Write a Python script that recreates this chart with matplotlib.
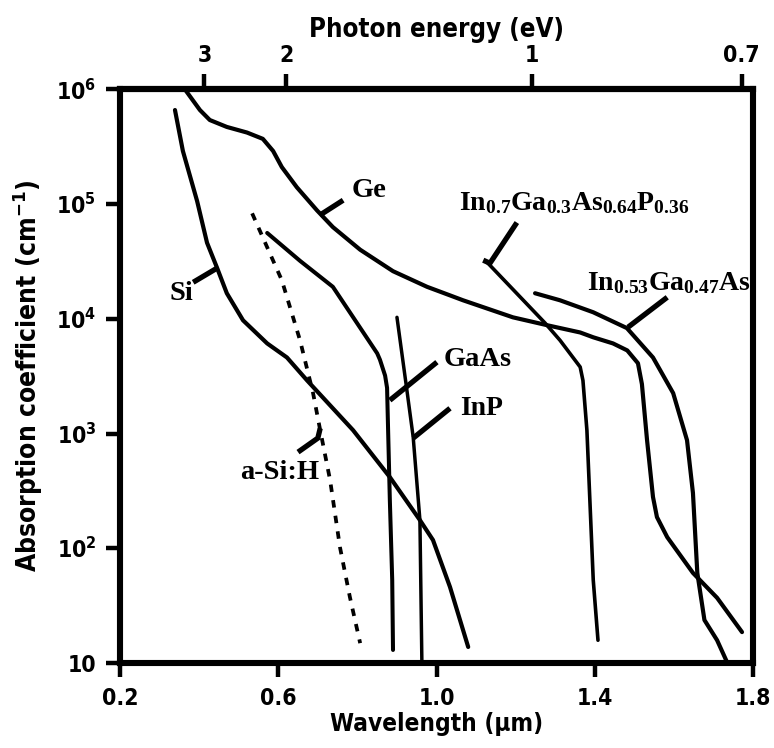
"""Absorption coefficient vs wavelength for common photodetector materials."""

import numpy as np
import matplotlib
matplotlib.use("Agg")
import matplotlib.pyplot as plt
from matplotlib import font_manager

SERIF = ["Liberation Serif", "DejaVu Serif"]
INK = "black"

# wavelength (um) and absorption coefficient (cm^-1)
ge_wl = [0.364, 0.402, 0.427, 0.470, 0.521, 0.561, 0.587, 0.609, 0.647, 0.698, 0.738,
         0.807, 0.890, 0.976, 1.034, 1.067, 1.193, 1.279, 1.363, 1.396, 1.446, 1.482,
         1.509, 1.519, 1.532, 1.547, 1.557, 1.583, 1.648, 1.709, 1.772]
ge_alpha = [1.0e6, 6.6e5, 5.4e5, 4.7e5, 4.2e5, 3.7e5, 2.9e5, 2.1e5, 1.4e5, 8.8e4, 6.3e4,
            4.0e4, 2.6e4, 1.9e4, 1.6e4, 1.45e4, 1.03e4, 8.8e3, 7.6e3, 6.9e3, 6.1e3, 5.3e3,
            4.1e3, 2.7e3, 875, 280, 187, 125, 61, 37, 18.6]

si_wl = [0.339, 0.359, 0.395, 0.420, 0.445, 0.470, 0.511, 0.572, 0.622, 0.673, 0.789,
         0.882, 0.958, 0.991, 1.034, 1.080]
si_alpha = [6.6e5, 2.9e5, 1.06e5, 4.6e4, 2.8e4, 1.67e4, 9.7e3, 6.1e3, 4.6e3, 2.9e3, 1.07e3,
            417, 176, 118, 46, 13.8]

asih_wl = [0.534, 0.572, 0.609, 0.655, 0.688, 0.706, 0.731, 0.756, 0.781, 0.807]
asih_alpha = [8.3e4, 4.2e4, 2.17e4, 6.5e3, 2.25e3, 1.07e3, 393, 102, 37.6, 14.9]

gaas_wl = [0.572, 0.655, 0.738, 0.850, 0.857, 0.870, 0.875, 0.877, 0.882, 0.888, 0.890]
gaas_alpha = [5.6e4, 3.2e4, 1.9e4, 5.0e3, 4.4e3, 3.2e3, 2.5e3, 1.3e3, 263, 53, 13]

inp_wl = [0.900, 0.925, 0.941, 0.958, 0.963]
inp_alpha = [1.03e4, 2.4e3, 930, 176, 10]

ingaasp_wl = [1.128, 1.274, 1.312, 1.363, 1.370, 1.380, 1.396, 1.408]
ingaasp_alpha = [3.1e4, 9.2e3, 6.5e3, 3.8e3, 2.9e3, 1.07e3, 53, 15.8]

ingaas_wl = [1.249, 1.312, 1.396, 1.481, 1.547, 1.598, 1.633, 1.648, 1.659, 1.677, 1.709, 1.734]
ingaas_alpha = [1.67e4, 1.45e4, 1.14e4, 8.3e3, 4.6e3, 2.25e3, 875, 303, 61, 23.7, 15.8, 10.2]

# curve labels: text, anchor (wl, alpha), alignment, leader line points
labels = [
    ("Ge", (0.786, 1.32e5), "left", [(0.705, 8.0e4), (0.764, 1.08e5)]),
    ("Si", (0.384, 1.67e4), "right", [(0.385, 2.08e4), (0.445, 2.76e4)]),
    ("a-Si:H", (0.604, 461), "center", [(0.650, 689), (0.700, 912), (0.706, 1.11e3)]),
    ("GaAs", (1.105, 4.45e3), "center", [(0.882, 1.95e3), (1.001, 4.19e3)]),
    ("InP", (1.115, 1.66e3), "center", [(0.941, 912), (1.034, 1.66e3)]),
    (r"In$_{0.7}$Ga$_{0.3}$As$_{0.64}$P$_{0.36}$", (1.348, 1.02e5), "center",
     [(1.203, 6.9e4), (1.135, 3.05e4), (1.118, 3.24e4)]),
    (r"In$_{0.53}$Ga$_{0.47}$As", (1.588, 2.04e4), "center", [(1.484, 8.45e3), (1.583, 1.54e4)]),
]

x_ticks = [0.2, 0.6, 1.0, 1.4, 1.8]
x_ticklabels = ["0.2", "0.6", "1.0", "1.4", "1.8"]
y_ticks = [10, 1e2, 1e3, 1e4, 1e5, 1e6]
y_ticklabels = ["10", "10$^2$", "10$^3$", "10$^4$", "10$^5$", "10$^6$"]
energy_ticks = [3, 2, 1, 0.7]
energy_ticklabels = ["3", "2", "1", "0.7"]


def to_energy(wl):
    with np.errstate(divide="ignore"):
        return 1.24 / np.asarray(wl, dtype=float)


def narrow_sans():
    # the original uses a condensed bold grotesque; take one if the system has it
    for entry in font_manager.fontManager.ttflist:
        name = entry.name
        narrow = "Narrow" in name or "Condensed" in name or entry.stretch in ("condensed", "semi-condensed")
        if narrow and "Serif" not in name and "Mono" not in name and entry.weight in (700, "bold"):
            return name, entry.stretch
    return "Liberation Sans", "normal"


sans_name, sans_stretch = narrow_sans()
plt.rcParams.update({
    "font.family": [sans_name, "Liberation Sans", "DejaVu Sans"],
    "font.stretch": sans_stretch,
    "font.weight": "bold",
    "mathtext.default": "regular",
})

fig = plt.figure(figsize=(7.74, 7.48), dpi=100, facecolor="white")
ax = fig.add_axes([0.155, 0.1136, 0.818, 0.767])
ax.set_yscale("log")
ax.set_xlim(0.2, 1.8)
ax.set_ylim(10, 1e6)

curve = dict(color=INK, solid_capstyle="round", solid_joinstyle="round")
ax.plot(ge_wl, ge_alpha, lw=3.0, **curve)
ax.plot(si_wl, si_alpha, lw=3.0, **curve)
ax.plot(gaas_wl, gaas_alpha, lw=2.9, **curve)
ax.plot(inp_wl, inp_alpha, lw=2.5, **curve)
ax.plot(ingaasp_wl, ingaasp_alpha, lw=2.6, **curve)
ax.plot(ingaas_wl, ingaas_alpha, lw=3.0, **curve)
ax.plot(asih_wl, asih_alpha, lw=2.7, color=INK, linestyle=(0, (2.0, 2.2)))

for text, (x, y), ha, leader in labels:
    lx, ly = zip(*leader)
    ax.plot(lx, ly, color=INK, lw=3.8, solid_capstyle="butt", solid_joinstyle="miter")
    size = 20 if text.startswith("In") else 20.5
    ax.text(x, y, text, ha=ha, va="center", fontsize=size, fontweight="bold",
            family=SERIF, color=INK)

for side in ax.spines.values():
    side.set_linewidth(4.4)
ax.minorticks_off()
ax.set_xticks(x_ticks)
ax.set_xticklabels(x_ticklabels)
ax.set_yticks(y_ticks)
ax.set_yticklabels(y_ticklabels)
ax.tick_params(axis="x", direction="out", length=10, width=3.2, labelsize=16.5, pad=7)
ax.tick_params(axis="y", direction="out", length=10, width=3.2, labelsize=16.5, pad=7)

top = ax.secondary_xaxis("top", functions=(to_energy, to_energy))
top.set_xticks(energy_ticks)
top.set_xticklabels(energy_ticklabels)
top.minorticks_off()
top.tick_params(direction="out", length=11, width=3.2, labelsize=16.5, pad=5)
top.spines["top"].set_linewidth(4.4)
top.set_xlabel("Photon energy (eV)", fontsize=18.5, fontweight="bold", labelpad=5)

ax.set_xlabel("Wavelength (\u03bcm)", fontsize=17.5, fontweight="bold", labelpad=2)
ax.set_ylabel("Absorption coefficient (cm$^{-1}$)", fontsize=19, fontweight="bold", labelpad=8)

fig.savefig("out.png", dpi=100, facecolor="white")
